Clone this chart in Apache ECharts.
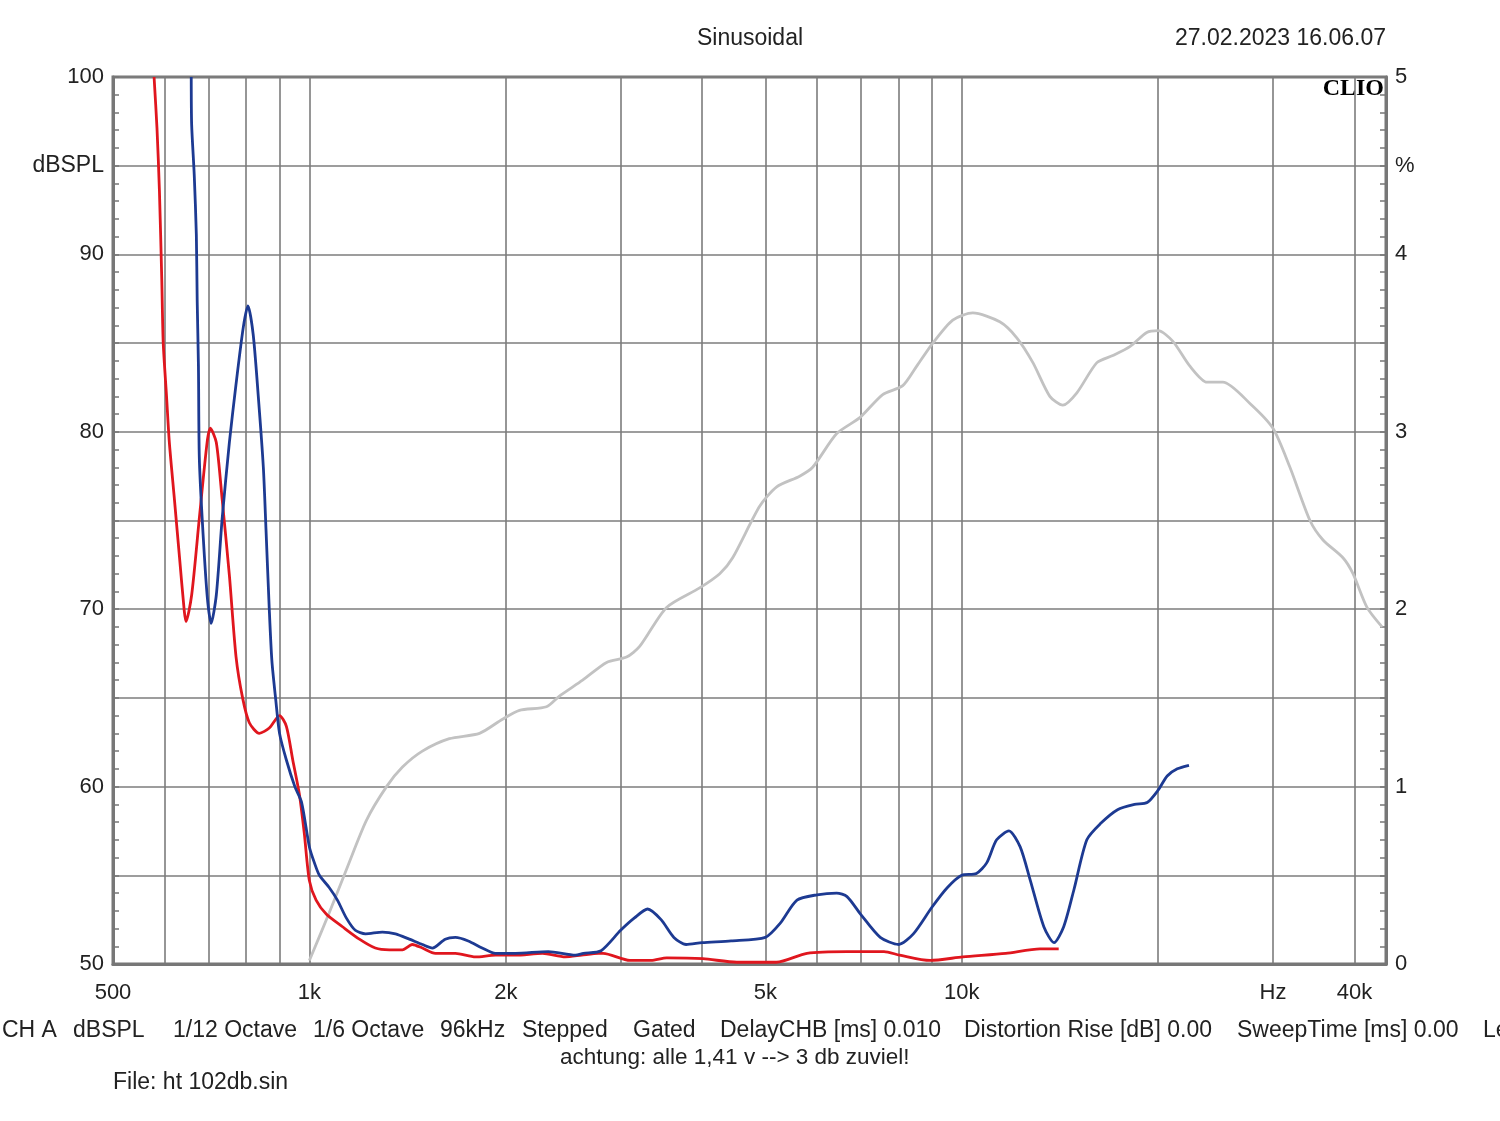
<!DOCTYPE html>
<html>
<head>
<meta charset="utf-8">
<script src="https://cdn.jsdelivr.net/npm/echarts@6/dist/echarts.min.js"></script>
<style>
html,body{margin:0;padding:0;background:#fff;}
#chart{width:1500px;height:1121px;}
</style>
</head>
<body>
<div id="chart"></div>
<script>
// ---- data (frequency in Hz) ----
const xGridValues = [500,600,700,800,900,1000,2000,3000,4000,5000,6000,7000,8000,9000,10000,20000,30000,40000];
const xLabelValues = [500,1000,2000,5000,10000,30000,40000];
const xLabelTexts = ['500','1k','2k','5k','10k','Hz','40k'];

// Gray curve: frequency response, dBSPL (left axis)
const grayFreq = [1000,1073,1139,1223,1313,1389,1490,1639,1823,1977,2099,2309,2417,2623,2855,3063,3208,3528,3965,4256,4455,4900,5204,5643,5908,6432,6978,7566,8121,8531,9028,9687,10397,11436,12144,12855,13646,14287,15012,16113,17045,18098,19214,20000,21069,22376,23760,25136,27651,29992,31845,34180,35790,38400,39785,41800,44080];
const grayDb   = [50.2,52.9,55.3,58.1,60.0,61.1,62.0,62.7,63.0,63.8,64.3,64.5,65.1,66.0,67.0,67.3,67.9,70.1,71.2,72.0,72.9,75.8,76.9,77.5,78.0,79.9,80.8,82.1,82.6,83.7,85.0,86.3,86.7,86.2,85.3,83.9,82.0,81.5,82.2,83.9,84.3,84.8,85.6,85.7,85.1,83.7,82.8,82.8,81.6,80.2,78.0,75.0,73.9,72.9,72.0,70.1,69.0];

// Red curve: distortion, % (right axis)
const redFreq = [578,584,589,594,597,604,610,621,632,643,647,660,678,697,705,720,735,754,772,790,809,838,868,900,922,943,965,982,1000,1024,1062,1124,1193,1262,1326,1389,1438,1490,1560,1674,1797,1929,2070,2277,2467,2614,2775,2820,3100,3340,3530,4010,4520,5200,5790,6670,7600,8030,8940,10040,11680,13180,14080];
const redPct  = [5.0,4.71,4.36,3.85,3.50,3.20,2.94,2.62,2.30,1.99,1.93,2.08,2.51,2.94,3.02,2.94,2.62,2.19,1.73,1.50,1.36,1.30,1.33,1.40,1.34,1.15,0.96,0.74,0.47,0.36,0.28,0.21,0.14,0.09,0.08,0.08,0.11,0.09,0.06,0.06,0.04,0.05,0.05,0.06,0.04,0.05,0.06,0.06,0.02,0.02,0.035,0.03,0.01,0.01,0.06,0.07,0.07,0.05,0.02,0.04,0.06,0.085,0.085];

// Blue curve: distortion, % (right axis)
const blueFreq = [659,660,666,671,673,676,678,685,697,707,720,735,754,772,792,805,820,835,850,858,868,876,888,900,922,950,973,1000,1018,1036,1073,1104,1139,1176,1219,1294,1355,1423,1490,1544,1615,1674,1752,1840,1929,2070,2324,2558,2630,2800,3000,3150,3300,3460,3620,3780,4000,4430,5000,5270,5590,6000,6430,6670,7000,7500,8000,8430,9000,9500,10000,10530,10920,11310,11810,12290,12740,13360,13850,14330,14860,15550,16300,17330,18400,19240,20000,20650,21400,22300];
const bluePct  = [5.0,4.73,4.45,4.11,3.74,3.37,2.86,2.51,2.08,1.92,2.08,2.51,2.94,3.27,3.59,3.71,3.55,3.20,2.80,2.45,2.00,1.71,1.49,1.30,1.15,1.00,0.91,0.66,0.57,0.50,0.43,0.36,0.26,0.19,0.17,0.18,0.17,0.14,0.11,0.09,0.14,0.15,0.13,0.09,0.06,0.06,0.07,0.05,0.06,0.075,0.19,0.26,0.31,0.25,0.15,0.11,0.12,0.13,0.15,0.23,0.36,0.39,0.40,0.38,0.28,0.15,0.11,0.17,0.32,0.43,0.50,0.51,0.57,0.70,0.75,0.66,0.47,0.21,0.12,0.21,0.42,0.70,0.79,0.87,0.90,0.91,0.98,1.06,1.10,1.12];

function zip(a, b) { return a.map((v, i) => [v, b[i]]); }

const chart = echarts.init(document.getElementById('chart'), null, {renderer: 'canvas'});
const FONT = 'Liberation Sans, Arial, sans-serif';
const TXT = '#222222';
const GRIDC = '#7c7c7c';
const FRAME = '#777777';

const bottomItems = [
  ['CH A', 2], ['dBSPL', 73], ['1/12 Octave', 173], ['1/6 Octave', 313], ['96kHz', 440],
  ['Stepped', 522], ['Gated', 633], ['DelayCHB [ms] 0.010', 720],
  ['Distortion Rise [dB] 0.00', 964], ['SweepTime [ms] 0.00', 1237], ['Le', 1483]
];

const graphics = [
  {type:'text', left: 'center', top: 27, style:{text:'Sinusoidal', font:'23px ' + FONT, fill:TXT}},
  {type:'text', right: 114, top: 27, style:{text:'27.02.2023 16.06.07', font:'23px ' + FONT, fill:TXT}},
  {type:'text', right: 116, top: 77, style:{text:'CLIO', font:'bold 24px "Liberation Serif", "DejaVu Serif", serif', fill:'#000'}},
  {type:'text', left: 560, top: 1046, style:{text:'achtung: alle 1,41 v --> 3 db zuviel!', font:'22.5px ' + FONT, fill:TXT}},
  {type:'text', left: 113, top: 1071, style:{text:'File: ht 102db.sin', font:'23px ' + FONT, fill:TXT}}
];
bottomItems.forEach(function (it) {
  graphics.push({type:'text', left: it[1], top: 1019, style:{text: it[0], font:'23px ' + FONT, fill:TXT}});
});

const option = {
  backgroundColor: '#ffffff',
  animation: false,
  grid: {left: 113, right: 114, top: 77, bottom: 157, show: true, borderColor: FRAME, borderWidth: 3, containLabel: false},
  xAxis: {
    type: 'log', logBase: 10, min: 500, max: 44700,
    axisLine: {show: true, lineStyle: {color: FRAME, width: 3}},
    axisTick: {show: false, customValues: xGridValues},
    splitLine: {show: true, lineStyle: {color: GRIDC, width: 1.6}},
    minorTick: {show: false}, minorSplitLine: {show: false},
    axisLabel: {
      customValues: xLabelValues, margin: 18, fontSize: 22, fontFamily: FONT, color: TXT,
      formatter: function (v) { const i = xLabelValues.indexOf(Math.round(v)); return i >= 0 ? xLabelTexts[i] : ''; }
    }
  },
  yAxis: [
    {
      type: 'value', min: 50, max: 100, interval: 5, position: 'left',
      axisLine: {show: true, lineStyle: {color: FRAME, width: 3}},
      axisTick: {show: true, inside: true, length: 6, lineStyle: {color: FRAME, width: 1.5}},
      minorTick: {show: true, splitNumber: 5, length: 6, lineStyle: {color: FRAME, width: 1.5}},
      splitLine: {show: true, lineStyle: {color: GRIDC, width: 1.6}},
      axisLabel: {
        margin: 9, fontSize: 22, fontFamily: FONT, color: TXT,
        formatter: function (v) { return v === 95 ? '{u|dBSPL}' : (v % 10 === 0 ? String(v) : ''); },
        rich: {u: {fontSize: 23, fontFamily: FONT, color: TXT}}
      }
    },
    {
      type: 'value', min: 0, max: 5, interval: 0.5, position: 'right',
      axisLine: {show: true, lineStyle: {color: FRAME, width: 3}},
      axisTick: {show: true, inside: true, length: 6, lineStyle: {color: FRAME, width: 1.5}},
      minorTick: {show: true, splitNumber: 5, length: 6, lineStyle: {color: FRAME, width: 1.5}},
      splitLine: {show: false},
      axisLabel: {
        margin: 9, fontSize: 22, fontFamily: FONT, color: TXT,
        formatter: function (v) { const r = Math.round(v * 10) / 10; return r === 4.5 ? '%' : (Math.abs(r - Math.round(r)) < 1e-6 ? String(Math.round(r)) : ''); }
      }
    }
  ],
  series: [
    {type: 'line', name: 'response', yAxisIndex: 0, data: zip(grayFreq, grayDb), showSymbol: false, smooth: 0.25,
     lineStyle: {color: '#c2c2c2', width: 2.8}, clip: true, z: 2},
    {type: 'line', name: 'red', yAxisIndex: 1, data: zip(redFreq, redPct), showSymbol: false, smooth: 0.25,
     lineStyle: {color: '#e0161e', width: 2.8}, clip: true, z: 3},
    {type: 'line', name: 'blue', yAxisIndex: 1, data: zip(blueFreq, bluePct), showSymbol: false, smooth: 0.25,
     lineStyle: {color: '#1d3a92', width: 2.8}, clip: true, z: 4}
  ],
  graphic: graphics
};
chart.setOption(option);
</script>
</body>
</html>
